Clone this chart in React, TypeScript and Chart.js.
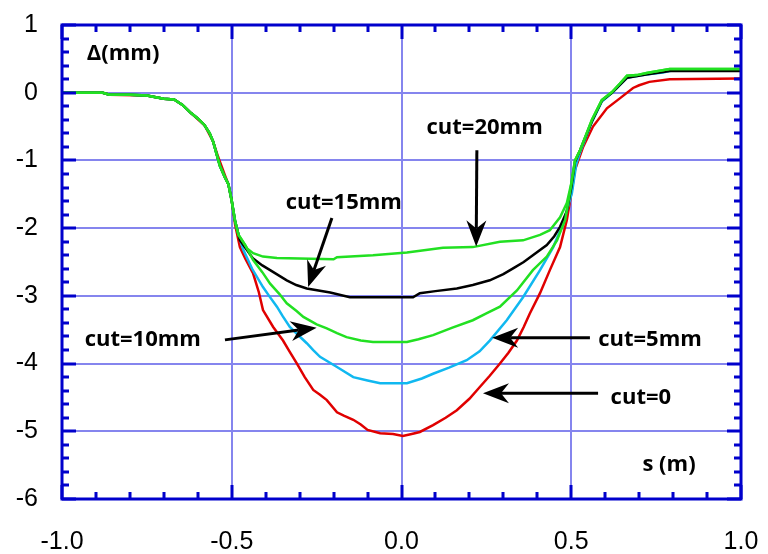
import React, { useEffect, useRef } from "react";
import { Chart, registerables } from "chart.js";

Chart.register(...registerables);

// ---- data (s in m, Δ in mm) ----
const leftS = [-1.0, -0.88, -0.86, -0.8, -0.75, -0.72, -0.7, -0.67, -0.645, -0.62, -0.6, -0.58, -0.565, -0.555, -0.545, -0.535, -0.52, -0.51, -0.5, -0.49, -0.48];
const leftD = [0, 0, -0.03, -0.03, -0.04, -0.07, -0.09, -0.1, -0.18, -0.3, -0.38, -0.48, -0.6, -0.72, -0.9, -1.08, -1.25, -1.35, -1.6, -1.9, -2.1];

const cut0S = [-1.0, -0.88, -0.86, -0.75, -0.7, -0.67, -0.645, -0.62, -0.58, -0.555, -0.54, -0.52, -0.51, -0.5, -0.49, -0.476, -0.46, -0.437, -0.42, -0.408, -0.378, -0.349, -0.33, -0.308, -0.285, -0.26, -0.24, -0.22, -0.19, -0.17, -0.142, -0.12, -0.1, -0.063, -0.025, 0.004, 0.03, 0.054, 0.093, 0.13, 0.163, 0.2, 0.23, 0.26, 0.29, 0.315, 0.34, 0.36, 0.378, 0.408, 0.437, 0.467, 0.487, 0.505, 0.511, 0.535, 0.564, 0.605, 0.644, 0.682, 0.7, 0.73, 0.79, 1.0];
const cut0D = [0, 0, -0.03, -0.04, -0.09, -0.1, -0.18, -0.3, -0.48, -0.72, -0.95, -1.22, -1.35, -1.6, -1.95, -2.28, -2.45, -2.67, -2.95, -3.21, -3.46, -3.66, -3.82, -4.0, -4.2, -4.39, -4.46, -4.54, -4.72, -4.77, -4.83, -4.9, -4.98, -5.03, -5.04, -5.07, -5.04, -5.01, -4.91, -4.8, -4.69, -4.52, -4.35, -4.18, -4.0, -3.84, -3.66, -3.46, -3.26, -2.96, -2.62, -2.28, -1.88, -1.34, -1.14, -0.8, -0.5, -0.23, -0.08, 0.07, 0.11, 0.16, 0.2, 0.21];

const cut5S = [-0.466, -0.44, -0.408, -0.39, -0.367, -0.35, -0.329, -0.3, -0.279, -0.26, -0.24, -0.19, -0.142, -0.1, -0.063, 0.016, 0.06, 0.093, 0.14, 0.192, 0.23, 0.26, 0.31, 0.358, 0.408, 0.447, 0.476, 0.502, 0.515, 0.526, 0.561, 0.59, 0.62, 0.644, 0.664, 0.72, 0.77, 0.8, 1.0];
const cut5D = [-2.32, -2.6, -2.87, -3.0, -3.16, -3.3, -3.46, -3.6, -3.7, -3.8, -3.9, -4.05, -4.2, -4.25, -4.29, -4.29, -4.22, -4.15, -4.06, -3.95, -3.82, -3.66, -3.36, -3.02, -2.62, -2.28, -1.93, -1.48, -1.05, -0.88, -0.43, -0.13, 0.0, 0.12, 0.22, 0.27, 0.3, 0.33, 0.33];

const cut10S = [-0.46, -0.437, -0.41, -0.387, -0.36, -0.338, -0.31, -0.289, -0.25, -0.22, -0.19, -0.162, -0.12, -0.084, 0.016, 0.05, 0.093, 0.15, 0.21, 0.25, 0.29, 0.34, 0.387, 0.428, 0.458, 0.482, 0.496, 0.511, 0.526, 0.561, 0.59, 0.62, 0.644, 0.664, 0.693, 0.722, 0.79, 1.0];
const cut10D = [-2.25, -2.47, -2.65, -2.82, -2.97, -3.11, -3.22, -3.31, -3.42, -3.48, -3.55, -3.61, -3.66, -3.68, -3.68, -3.64, -3.58, -3.47, -3.36, -3.26, -3.16, -2.92, -2.62, -2.42, -2.18, -1.88, -1.48, -1.0, -0.85, -0.4, -0.11, 0.01, 0.14, 0.25, 0.26, 0.29, 0.35, 0.35];

const cut15S = [-0.476, -0.437, -0.41, -0.387, -0.338, -0.31, -0.279, -0.21, -0.152, -0.1, 0.0, 0.034, 0.054, 0.1, 0.163, 0.21, 0.26, 0.3, 0.33, 0.36, 0.387, 0.428, 0.45, 0.467, 0.487, 0.5, 0.511, 0.526, 0.561, 0.59, 0.62, 0.644, 0.664, 0.72, 0.79, 1.0];
const cut15D = [-2.18, -2.45, -2.55, -2.62, -2.77, -2.84, -2.89, -2.95, -3.02, -3.02, -3.02, -3.02, -2.96, -2.93, -2.89, -2.84, -2.77, -2.68, -2.59, -2.5, -2.4, -2.25, -2.12, -1.98, -1.75, -1.4, -1.02, -0.85, -0.42, -0.12, 0.0, 0.12, 0.22, 0.27, 0.32, 0.32];

const cut20S = [-0.476, -0.455, -0.437, -0.408, -0.367, -0.2, -0.19, -0.084, 0.016, 0.122, 0.21, 0.29, 0.358, 0.408, 0.437, 0.467, 0.487, 0.5, 0.511, 0.526, 0.561, 0.59, 0.62, 0.644, 0.664, 0.693, 0.722, 0.79, 1.0];
const cut20D = [-2.13, -2.3, -2.37, -2.42, -2.44, -2.46, -2.43, -2.4, -2.36, -2.29, -2.28, -2.2, -2.18, -2.1, -2.03, -1.84, -1.63, -1.34, -1.0, -0.85, -0.4, -0.11, 0.01, 0.14, 0.25, 0.26, 0.29, 0.35, 0.35];

const xTickValues = [-1, -0.5, 0, 0.5, 1];
const xTickLabels = ["-1.0", "-0.5", "0.0", "0.5", "1.0"];
const yTickValues = [-6, -5, -4, -3, -2, -1, 0, 1];
const yTickLabels = ["-6", "-5", "-4", "-3", "-2", "-1", "0", "1"];

// annotations (anchors in data units)
const labelTexts = ["Δ(mm)", "s (m)", "cut=20mm", "cut=15mm", "cut=10mm", "cut=5mm", "cut=0"];
const labelS = [-0.82, 0.788, 0.245, -0.17, -0.762, 0.732, 0.705];
const labelD = [0.58, -5.5, -0.52, -1.62, -3.65, -3.65, -4.5];

const arrowTailS = [0.222, -0.205, -0.52, 0.555, 0.579];
const arrowTailD = [-0.85, -1.85, -3.65, -3.62, -4.44];
const arrowHeadS = [0.22, -0.275, -0.25, 0.267, 0.24];
const arrowHeadD = [-2.27, -2.87, -3.47, -3.62, -4.44];

const toPts = (s: number[], d: number[]) => s.map((v, i) => ({ x: v, y: d[i] }));

const framePlugin = {
  id: "frame",
  afterDatasetsDraw(chart: any) {
    const { ctx, chartArea: a, scales } = chart;
    const xs = scales.x;
    const ys = scales.y;
    ctx.save();
    ctx.strokeStyle = "#0000cc";
    ctx.lineWidth = 3;
    ctx.beginPath();
    for (let k = -10; k <= 10; k++) {
      const v = k / 10;
      const px = Math.round(xs.getPixelForValue(v));
      const len = k % 5 === 0 ? 14 : 7;
      ctx.moveTo(px, a.bottom);
      ctx.lineTo(px, a.bottom - len);
      ctx.moveTo(px, a.top);
      ctx.lineTo(px, a.top + len);
    }
    for (let k = -30; k <= 5; k++) {
      const v = k / 5;
      const py = Math.round(ys.getPixelForValue(v));
      const len = k % 5 === 0 ? 14 : 7;
      ctx.moveTo(a.left, py);
      ctx.lineTo(a.left + len, py);
      ctx.moveTo(a.right, py);
      ctx.lineTo(a.right - len, py);
    }
    ctx.stroke();
    ctx.strokeRect(a.left, a.top, a.right - a.left, a.bottom - a.top);
    ctx.restore();

    ctx.save();
    ctx.fillStyle = "#000";
    ctx.strokeStyle = "#000";
    ctx.font = 'bold 22px "Open Sans"';
    ctx.textAlign = "center";
    ctx.textBaseline = "middle";
    labelTexts.forEach((t, i) => {
      ctx.fillText(t, xs.getPixelForValue(labelS[i]), ys.getPixelForValue(labelD[i]));
    });
    arrowTailS.forEach((_, i) => {
      const x1 = xs.getPixelForValue(arrowTailS[i]);
      const y1 = ys.getPixelForValue(arrowTailD[i]);
      const x2 = xs.getPixelForValue(arrowHeadS[i]);
      const y2 = ys.getPixelForValue(arrowHeadD[i]);
      const ang = Math.atan2(y2 - y1, x2 - x1);
      const L = 26, W = 10, N = 18;
      const bx = x2 - L * Math.cos(ang);
      const by = y2 - L * Math.sin(ang);
      const nx = x2 - N * Math.cos(ang);
      const ny = y2 - N * Math.sin(ang);
      ctx.lineWidth = 3;
      ctx.beginPath();
      ctx.moveTo(x1, y1);
      ctx.lineTo(nx, ny);
      ctx.stroke();
      ctx.beginPath();
      ctx.moveTo(x2, y2);
      ctx.lineTo(bx + W * Math.sin(ang), by - W * Math.cos(ang));
      ctx.lineTo(nx, ny);
      ctx.lineTo(bx - W * Math.sin(ang), by + W * Math.cos(ang));
      ctx.closePath();
      ctx.fill();
    });
    ctx.restore();
  },
};

export default function App() {
  const ref = useRef<HTMLCanvasElement>(null);
  useEffect(() => {
    document.body.style.margin = "0";
    const ds = (label: string, pts: any[], color: string) => ({
      label,
      data: pts,
      borderColor: color,
      backgroundColor: color,
      borderWidth: 2.5,
      pointRadius: 0,
      tension: 0,
      fill: false,
    });
    const chart = new Chart(ref.current as HTMLCanvasElement, {
      type: "line",
      data: {
        datasets: [
          ds("cut=20mm", toPts([...leftS, ...cut20S], [...leftD, ...cut20D]), "#22e022"),
          ds("cut=10mm", toPts([...leftS, ...cut10S], [...leftD, ...cut10D]), "#22e022"),
          ds("cut=15mm", toPts([...leftS, ...cut15S], [...leftD, ...cut15D]), "#000000"),
          ds("cut=5mm", toPts([...leftS, ...cut5S], [...leftD, ...cut5D]), "#10b8f0"),
          ds("cut=0", toPts(cut0S, cut0D), "#e00000"),
        ],
      },
      options: {
        responsive: false,
        animation: false,
        devicePixelRatio: 1,
        layout: { padding: { top: 25, right: 27, left: 0, bottom: 0 } },
        plugins: { legend: { display: false }, tooltip: { enabled: false } },
        scales: {
          x: {
            type: "linear",
            min: -1,
            max: 1,
            afterBuildTicks: (s: any) => {
              s.ticks = xTickValues.map((v) => ({ value: v }));
            },
            afterFit: (s: any) => {
              s.height = 55;
              s.paddingLeft = 0;
              s.paddingRight = 0;
              s.paddingTop = 0;
              s.paddingBottom = 0;
            },
            ticks: {
              callback: (v: any) => xTickLabels[xTickValues.indexOf(Number(v))] ?? "",
              font: { family: '"Liberation Sans"', size: 25 },
              color: "#000",
              padding: 28,
              maxRotation: 0,
              autoSkip: false,
            },
            grid: { color: "#8585ee", lineWidth: 2, drawTicks: false },
            border: { display: false },
          },
          y: {
            type: "linear",
            min: -6,
            max: 1,
            afterBuildTicks: (s: any) => {
              s.ticks = yTickValues.map((v) => ({ value: v }));
            },
            afterFit: (s: any) => {
              s.width = 62;
              s.paddingLeft = 0;
              s.paddingRight = 0;
              s.paddingTop = 0;
              s.paddingBottom = 0;
            },
            ticks: {
              callback: (v: any) => yTickLabels[yTickValues.indexOf(Number(v))] ?? "",
              font: { family: '"Liberation Sans"', size: 25 },
              color: "#000",
              padding: 24,
              autoSkip: false,
            },
            grid: { color: "#8585ee", lineWidth: 2, drawTicks: false },
            border: { display: false },
          },
        },
      },
      plugins: [framePlugin],
    });
    return () => chart.destroy();
  }, []);
  return (
    <div style={{ position: "absolute", left: 0, top: 0, width: 768, height: 554, background: "#fff" }}>
      <canvas ref={ref} width={768} height={554} />
    </div>
  );
}
